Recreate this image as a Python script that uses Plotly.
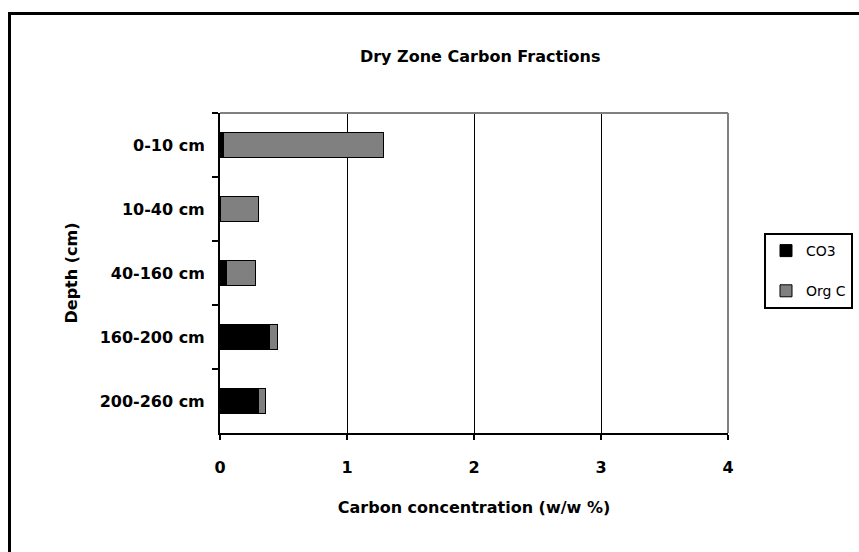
import plotly.graph_objects as go

depths = ["0-10 cm", "10-40 cm", "40-160 cm", "160-200 cm", "200-260 cm"]
co3 = [0.03, 0.0, 0.05, 0.39, 0.30]
org_c = [1.26, 0.30, 0.23, 0.06, 0.06]
x_ticks = [0, 1, 2, 3, 4]

title = "Dry Zone Carbon Fractions"
x_title = "Carbon concentration (w/w %)"
y_title = "Depth (cm)"

BOLD = "DejaVu Sans, sans-serif"
REG = "DejaVu Sans, sans-serif"

fig = go.Figure()
fig.add_trace(go.Bar(y=depths, x=co3, name="CO3", orientation="h", legendgroup="a",
                     marker=dict(color="#000000", line=dict(color="#000000", width=1)),
                     width=0.38))
fig.add_trace(go.Bar(y=depths, x=org_c, name="Org C", orientation="h", legendgroup="b",
                     marker=dict(color="#808080", line=dict(color="#000000", width=1)),
                     width=0.38))

L, R, T, B = 220, 728, 113, 433
W, H = 859, 552
pw, ph = R - L, B - T

def px(x):
    return (x - L) / pw

def py(y):
    return (B - y) / ph

fig.update_layout(
    width=W, height=H,
    margin=dict(l=L, r=W - R, t=T, b=H - B, pad=0, autoexpand=False),
    paper_bgcolor="white", plot_bgcolor="white",
    barmode="stack",
    font=dict(family=REG, color="black"),
    title=dict(text=title, x=440 / W, xanchor="center", xref="paper",
               y=1 - 56 / H, yanchor="middle",
               font=dict(size=16, weight="bold", family=BOLD)),
    xaxis=dict(range=[0, 4], tickvals=x_ticks, ticktext=[str(v) for v in x_ticks],
               showgrid=True, gridcolor="black", gridwidth=1,
               showline=True, linecolor="black", linewidth=2,
               ticks="outside", ticklen=5, tickwidth=2, tickcolor="black",
               ticklabelstandoff=14,
               tickfont=dict(size=16, weight="bold", family=BOLD),
               zeroline=False, fixedrange=True,
               title=dict(text=x_title, standoff=26, font=dict(size=16, weight="bold", family=BOLD))),
    yaxis=dict(autorange="reversed", categoryorder="array", categoryarray=depths,
               showgrid=False, showline=True, linecolor="black", linewidth=2,
               ticks="outside", ticklen=6, tickwidth=2, tickcolor="black",
               tickson="boundaries", ticklabelstandoff=10,
               tickfont=dict(size=16, weight="bold", family=BOLD),
               title=dict(text=y_title, standoff=18, font=dict(size=16, weight="bold", family=BOLD))),
    legend=dict(x=px(764), y=py(233), xanchor="left", yanchor="top",
                bordercolor="black", borderwidth=2, bgcolor="white",
                traceorder="grouped", font=dict(size=14, family=REG),
                itemwidth=30, tracegroupgap=19),
    showlegend=True,
)

# gray top/right border of plot area
fig.add_shape(type="line", xref="paper", yref="paper", x0=0, x1=1, y0=1, y1=1,
              line=dict(color="#808080", width=2))
fig.add_shape(type="line", xref="paper", yref="paper", x0=1, x1=1, y0=0, y1=1,
              line=dict(color="#808080", width=2))
# outer chart frame
fig.add_shape(type="rect", xref="paper", yref="paper",
              x0=px(9.5), x1=px(900), y0=py(13.5), y1=py(600),
              line=dict(color="black", width=3), layer="below")

fig.write_html("out.html")
